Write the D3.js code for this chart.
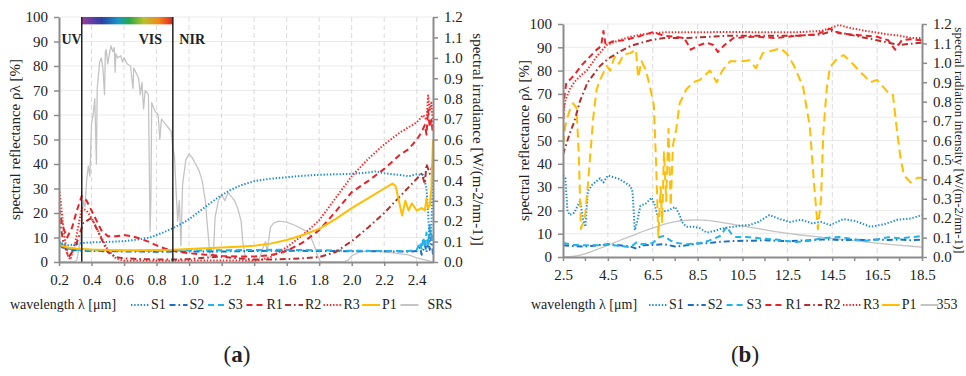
<!DOCTYPE html>
<html>
<head>
<meta charset="utf-8">
<script src="https://cdn.jsdelivr.net/npm/d3@7"></script>
<style>
  body { margin: 0; background: #fff; }
  svg text { font-family: "Liberation Serif", "DejaVu Serif", serif; fill: #222; }
</style>
</head>
<body>
<svg id="chart" width="966" height="376"></svg>
<script>
// ---- panel (a): UV / VIS / NIR, wavelength 0.2 - 2.5 um ----
const aS1 = [[0.2,8.5],[0.22,7.5],[0.25,6.8],[0.3,7.2],[0.35,7.8],[0.4,8],[0.5,8.2],[0.6,8.5],[0.7,9.3],[0.76,10],[0.8,11],[0.85,12.3],[0.9,13.8],[0.95,15.5],[1.0,17.5],[1.05,20],[1.1,22.5],[1.15,25],[1.2,27.3],[1.25,29.2],[1.3,30.8],[1.35,32],[1.4,33],[1.5,34],[1.6,34.6],[1.7,35.2],[1.8,35.6],[1.9,35.8],[2.0,36],[2.1,36.5],[2.15,37],[2.2,36.2],[2.3,35.5],[2.35,35],[2.4,35.8],[2.44,35.5],[2.46,30],[2.47,20],[2.48,8],[2.49,15],[2.5,36]];
const aS2 = [[0.2,7],[0.22,6],[0.25,5],[0.3,4.8],[0.4,4.5],[0.6,4.3],[0.8,4.2],[1.0,4.3],[1.2,4.3],[1.4,4.5],[1.6,4.6],[1.8,4.5],[2.0,4.4],[2.2,4.4],[2.35,4.2],[2.4,4.5],[2.42,6],[2.43,3],[2.45,7],[2.46,4],[2.47,9],[2.48,5],[2.49,10],[2.5,3]];
const aS3 = [[0.2,8.5],[0.22,7],[0.25,5.5],[0.3,5],[0.4,4.8],[0.6,4.6],[0.8,4.6],[1.0,4.7],[1.2,4.8],[1.4,4.9],[1.6,5],[1.8,4.8],[2.0,4.6],[2.2,4.5],[2.35,4.5],[2.4,5],[2.42,8],[2.43,5],[2.44,10],[2.45,6],[2.46,12],[2.47,7],[2.48,15],[2.49,9],[2.5,13]];
const aR1 = [[0.2,22],[0.22,15],[0.25,10],[0.28,14],[0.31,21],[0.34,27],[0.37,25],[0.4,21],[0.43,17],[0.46,13],[0.5,10.5],[0.55,10.5],[0.6,11],[0.65,10.5],[0.7,9.5],[0.75,8.3],[0.8,6.8],[0.85,5.5],[0.9,4.6],[0.95,4],[1.0,3.6],[1.1,3],[1.2,2.5],[1.3,2.2],[1.4,2.2],[1.5,2.8],[1.55,3.5],[1.6,4.5],[1.7,8],[1.8,13],[1.9,20.5],[2.0,28.5],[2.1,33],[2.2,38],[2.3,44],[2.35,46],[2.4,50],[2.43,53],[2.45,56],[2.46,52],[2.47,62],[2.48,55],[2.49,58],[2.5,52]];
const aR2 = [[0.2,18],[0.23,7],[0.26,2],[0.3,6],[0.35,16],[0.4,18],[0.45,11],[0.5,4],[0.55,2],[0.6,1.5],[0.7,1.2],[0.8,1],[0.9,1],[1.0,1.2],[1.1,1.8],[1.2,2.2],[1.3,1.5],[1.4,1],[1.5,1],[1.6,1.2],[1.7,1.5],[1.8,2],[1.9,4],[2.0,8.5],[2.1,14],[2.2,20],[2.3,27],[2.4,34],[2.43,36],[2.45,32],[2.46,40],[2.48,36],[2.5,40]];
const aR3 = [[0.2,30],[0.21,25],[0.23,12],[0.25,3],[0.27,1],[0.3,8],[0.34,22],[0.37,21],[0.4,18],[0.43,14],[0.46,10],[0.5,5],[0.55,1.5],[0.6,0.5],[0.8,0.5],[1.0,0.6],[1.2,0.6],[1.4,0.6],[1.45,1],[1.5,2],[1.6,6],[1.7,11],[1.8,17],[1.9,26],[2.0,35],[2.1,42],[2.2,48],[2.3,53],[2.4,57],[2.44,60],[2.46,58],[2.47,68],[2.48,62],[2.49,65],[2.5,56]];
const aP1 = [[0.2,7],[0.25,6],[0.3,5.5],[0.4,5.1],[0.5,4.9],[0.6,4.8],[0.7,4.8],[0.8,4.9],[0.9,5],[1.0,5.3],[1.1,5.6],[1.2,5.9],[1.3,6.2],[1.4,6.6],[1.5,7.5],[1.6,9],[1.7,11],[1.8,13.5],[1.9,17.5],[2.0,22],[2.1,26],[2.2,30],[2.25,32],[2.27,31],[2.29,25],[2.31,19],[2.33,25],[2.35,21],[2.37,24],[2.4,21],[2.43,22],[2.45,21],[2.46,26],[2.47,22],[2.48,23],[2.49,30],[2.5,50]];
// solar radiation spectrum, W/(m-2/nm-1), right axis
const aSRS = [[0.2,0],[0.29,0],[0.31,0.01],[0.33,0.1],[0.35,0.3],[0.36,0.27],[0.37,0.4],[0.38,0.47],[0.39,0.42],[0.4,0.68],[0.41,0.72],[0.42,0.8],[0.43,0.48],[0.435,0.85],[0.45,0.98],[0.46,1.0],[0.47,0.95],[0.48,0.82],[0.485,1.03],[0.49,1.04],[0.5,0.97],[0.51,1.02],[0.52,1.06],[0.53,1.03],[0.54,1.05],[0.545,0.93],[0.55,1.02],[0.56,1.0],[0.58,1.01],[0.59,0.98],[0.6,1.0],[0.62,0.97],[0.64,0.96],[0.655,0.85],[0.66,0.95],[0.69,0.9],[0.7,0.82],[0.71,0.88],[0.72,0.75],[0.73,0.84],[0.75,0.82],[0.76,0.15],[0.765,0.3],[0.77,0.78],[0.79,0.74],[0.81,0.72],[0.82,0.6],[0.83,0.7],[0.85,0.68],[0.87,0.66],[0.89,0.64],[0.9,0.56],[0.91,0.52],[0.92,0.35],[0.93,0.2],[0.94,0.3],[0.95,0.08],[0.96,0.38],[0.98,0.5],[1.0,0.53],[1.02,0.51],[1.04,0.48],[1.06,0.45],[1.08,0.4],[1.1,0.3],[1.11,0.2],[1.13,0.02],[1.15,0.05],[1.16,0.22],[1.18,0.3],[1.2,0.33],[1.22,0.3],[1.24,0.34],[1.26,0.32],[1.28,0.3],[1.3,0.26],[1.32,0.2],[1.33,0.1],[1.35,0],[1.4,0],[1.43,0.01],[1.45,0.06],[1.47,0.1],[1.48,0.05],[1.5,0.17],[1.52,0.19],[1.55,0.2],[1.6,0.195],[1.65,0.18],[1.7,0.16],[1.74,0.14],[1.77,0.08],[1.79,0.03],[1.81,0],[1.95,0],[1.98,0.01],[2.0,0.03],[2.05,0.05],[2.1,0.055],[2.2,0.05],[2.3,0.04],[2.35,0.035],[2.4,0.02],[2.45,0.01],[2.5,0]];
const aXTicks = [0.2, 0.4, 0.6, 0.8, 1.0, 1.2, 1.4, 1.6, 1.8, 2.0, 2.2, 2.4];
const visBounds = [0.34, 0.9];
const bandLabels = [['UV', 0.215], ['VIS', 0.69], ['NIR', 0.94]];

// ---- panel (b): thermal infrared, wavelength 2.5 - 18.5 um ----
const bS1 = [[2.5,35],[2.6,34],[2.7,20],[2.8,18],[3.0,19],[3.26,24],[3.4,16],[3.5,13],[3.6,28],[3.8,31],[4.15,33.8],[4.3,32],[4.5,35],[5.0,33.5],[5.5,30.5],[5.6,28],[5.7,11.5],[5.8,15],[5.95,22],[6.2,23],[6.45,25.5],[6.6,22],[6.7,18],[6.95,19.5],[7.2,20],[7.5,21.5],[7.7,18],[7.8,15],[8.0,13],[8.3,13],[8.6,12.4],[8.9,10.5],[9.2,11],[9.5,12],[9.8,12.6],[10.1,13],[10.5,13.5],[10.8,13.7],[11.2,15],[11.7,18],[12.1,16.5],[12.6,15],[13.1,16],[13.6,14.5],[14.0,15],[14.4,13.7],[15.0,16.3],[15.5,15.5],[16.2,13],[16.8,14],[17.4,16],[18.0,16.5],[18.5,18]];
const bS2 = [[2.5,5],[3.0,4.6],[3.5,4.5],[4.0,5],[4.5,5.5],[5.0,5],[5.5,4.5],[5.8,3.5],[6.0,5],[6.5,5.2],[7.0,5.5],[7.5,4.5],[8.0,5],[8.5,5.8],[9.0,6],[9.5,6.5],[10.0,6.8],[10.5,7],[11.0,7],[11.5,7.2],[12.0,7],[12.5,6.8],[13.0,7],[13.5,7.2],[14.0,7.5],[14.5,7.5],[15.0,7.2],[15.5,7.5],[16.0,7.2],[16.5,7.5],[17.0,7.3],[17.5,7.5],[18.0,7.2],[18.5,7.5]];
const bS3 = [[2.5,6],[3.0,5.2],[3.5,5],[4.0,5],[4.5,5.3],[5.0,4.8],[5.5,4.2],[5.8,6.4],[6.0,5.5],[6.5,6],[6.8,8.6],[7.0,9],[7.3,7],[7.6,6],[8.0,5.5],[8.5,5.8],[9.0,7],[9.5,9],[9.8,13],[10.0,10],[10.2,8.6],[10.8,8.5],[11.4,7.9],[12.0,7.5],[12.9,6.4],[13.5,7],[14.0,8],[14.8,8.6],[15.5,7.5],[16.0,7],[16.5,7.5],[17.0,8.5],[17.5,8],[18.0,8.5],[18.5,9]];
const bR1 = [[2.5,55],[2.55,68],[2.65,75],[2.8,76],[3.0,78],[3.3,82],[3.6,85],[4.0,89],[4.2,90.5],[4.3,97],[4.4,91],[4.7,92.5],[5.2,93],[5.6,94],[6.0,95],[6.5,96.5],[7.0,95],[7.5,94.5],[7.9,94],[8.2,89],[8.6,91],[8.9,92],[9.2,91],[9.4,88],[9.7,91],[10.1,94],[11,94.5],[12,94],[13,95],[13.8,95.5],[14.4,98],[14.8,96],[15.4,95.5],[15.9,95],[16.5,94.5],[17.0,93],[17.3,89],[17.6,93],[18.0,93.5],[18.5,93]];
const bR2 = [[2.5,44],[2.8,53],[3.0,58],[3.26,67],[3.6,75],[4.15,82],[4.5,85],[5.0,88],[5.5,90.5],[6.0,92],[6.4,93],[7.0,94],[8.0,94],[9.0,94.5],[10.0,95],[11.0,95],[12.0,95],[13.0,95],[14.0,95.5],[14.5,97],[15.0,96],[15.5,95],[16.0,94],[16.5,93],[17.0,92],[17.5,91],[18.0,91.5],[18.5,92]];
const bR3 = [[2.5,60],[2.6,67],[2.8,72],[3.0,75],[3.3,78],[3.56,80],[4.0,86],[4.45,91],[5.0,93],[5.5,94.5],[6.0,95.5],[6.5,96],[7.1,96.5],[8.0,96.5],[9.0,96.5],[10.0,96.6],[11.0,96.5],[12.0,96.5],[13.0,96.5],[14.0,97],[14.5,98.5],[14.8,99.6],[15.2,98.5],[16.0,97],[17.0,95.5],[17.5,95],[18.0,94],[18.5,94]];
const bP1 = [[2.5,48],[2.6,56],[2.7,60],[2.8,63],[2.95,66],[3.1,64],[3.2,45],[3.3,12],[3.4,15],[3.48,17],[3.6,30],[3.75,48],[3.85,60],[4.0,72],[4.15,76],[4.3,79],[4.45,82],[4.6,80],[4.8,86],[5.0,83],[5.2,87],[5.5,87.5],[5.75,89],[5.85,77],[6.0,84],[6.2,80],[6.4,72],[6.55,65],[6.65,40],[6.75,9],[6.85,30],[6.92,15],[7.0,45],[7.1,24],[7.2,55],[7.3,22],[7.4,48],[7.55,55],[7.7,66],[8.0,72],[8.3,75],[8.6,76],[9.05,80],[9.35,75],[9.6,80],[9.94,84],[10.5,84],[10.8,84.5],[11.1,81],[11.4,87.5],[11.8,88.5],[12.2,89.6],[12.5,87],[12.8,82],[13.2,73],[13.5,56],[13.7,30],[13.86,12],[14.0,25],[14.1,53],[14.25,72],[14.4,81.5],[14.7,85],[15.0,86.7],[15.3,84],[15.6,81],[15.9,78],[16.2,75],[16.5,76],[16.95,71],[17.2,70],[17.4,53],[17.55,42],[17.7,35],[18.0,32],[18.3,34],[18.5,34]];
// emission at 353 K, right axis
const b353 = [[2.5,0],[2.9,0],[3.5,0.015],[4.15,0.045],[4.5,0.06],[5.0,0.085],[5.6,0.11],[6.0,0.13],[6.5,0.15],[7.1,0.172],[7.5,0.183],[8.0,0.19],[8.5,0.192],[8.9,0.19],[9.5,0.18],[10.1,0.168],[10.5,0.16],[11.4,0.142],[12.0,0.13],[12.9,0.115],[14.4,0.098],[15.9,0.078],[17.0,0.065],[18.4,0.052],[18.5,0.051]];
const bXTicks = [2.5, 4.5, 6.5, 8.5, 10.5, 12.5, 14.5, 16.5, 18.5];
const bXMinor = [3.5, 5.5, 7.5, 9.5, 11.5, 13.5, 15.5, 17.5];

const leftTicks = [0, 10, 20, 30, 40, 50, 60, 70, 80, 90, 100];
const rightTicks = [0, 0.1, 0.2, 0.3, 0.4, 0.5, 0.6, 0.7, 0.8, 0.9, 1.0, 1.1, 1.2];

// line styles
const C = {
  S1: '#1e8ed8', S2: '#1b6fc4', S3: '#1fb4ec',
  R1: '#e8222a', R2: '#b2302f', R3: '#ff2424', P1: '#ffbe00', G: '#c4c4c4'
};
const DOT = '1.4,1.8', DASHDOT = '6,3,1.6,3', DASH = '6,4';
const SERIF = '"Liberation Serif", "Times New Roman", serif';

const svg = d3.select('#chart');
const axisGray = '#8c8c8c';

function drawPanel(p) {
  const g = svg.append('g').style('font-family', SERIF);
  const x = d3.scaleLinear().domain(p.xDomain).range([p.left, p.right]);
  const y = d3.scaleLinear().domain([0, 100]).range([p.bottom, p.top]);
  const y2 = d3.scaleLinear().domain([0, 1.2]).range([p.bottom, p.top]);

  const clipId = 'clip-' + p.id;
  svg.append('clipPath').attr('id', clipId).append('rect')
    .attr('x', p.left).attr('y', p.top - 2)
    .attr('width', p.right - p.left).attr('height', p.bottom - p.top + 2);

  // gridlines
  g.append('g').selectAll('line').data(leftTicks.slice(1)).join('line')
    .attr('x1', p.left).attr('x2', p.right)
    .attr('y1', d => y(d)).attr('y2', d => y(d))
    .attr('stroke', '#ebebeb').attr('stroke-width', 1);
  g.append('g').selectAll('line').data(p.gridX).join('line')
    .attr('x1', d => x(d)).attr('x2', d => x(d))
    .attr('y1', p.top).attr('y2', p.bottom)
    .attr('stroke', '#dcdcdc').attr('stroke-width', 1)
    .attr('stroke-dasharray', '5,3');

  if (p.extra) p.extra(g, x, y);

  // series
  const plot = g.append('g').attr('clip-path', `url(#${clipId})`);
  p.series.forEach(s => {
    const yy = s.right ? y2 : y;
    const line = d3.line().x(d => x(d[0])).y(d => yy(d[1]));
    if (s.curve) line.curve(s.curve);
    plot.append('path')
      .datum(s.data)
      .attr('fill', 'none')
      .attr('stroke', s.color)
      .attr('stroke-width', s.width || 2)
      .attr('stroke-dasharray', s.dash || null)
      .attr('stroke-linejoin', 'round')
      .attr('d', line);
  });

  if (p.overlay) p.overlay(g, x, y);

  // axes
  const styleAxis = sel => {
    sel.attr('font-family', null);
    sel.selectAll('.domain').attr('stroke', axisGray).attr('stroke-width', 2);
    sel.selectAll('.tick line').attr('stroke', axisGray).attr('stroke-width', 1.5);
    sel.selectAll('.tick text').attr('font-size', 15)
      .style('font-family', SERIF).attr('fill', '#222');
  };
  g.append('g').attr('transform', `translate(${p.left},0)`)
    .call(d3.axisLeft(y).tickValues(leftTicks).tickSize(5).tickPadding(6).tickSizeOuter(0))
    .call(styleAxis);
  g.append('g').attr('transform', `translate(${p.right},0)`)
    .call(d3.axisRight(y2).tickValues(rightTicks).tickFormat(d3.format('.1f')).tickSize(5).tickPadding(6).tickSizeOuter(0))
    .call(styleAxis);
  g.append('g').attr('transform', `translate(0,${p.bottom})`)
    .call(d3.axisBottom(x).tickValues(p.xTicks).tickFormat(d3.format('.1f')).tickSize(4).tickPadding(8).tickSizeOuter(0))
    .call(styleAxis);
  if (p.xMinor) {
    g.append('g').selectAll('line').data(p.xMinor).join('line')
      .attr('x1', d => x(d)).attr('x2', d => x(d))
      .attr('y1', p.bottom).attr('y2', p.bottom + 4)
      .attr('stroke', axisGray).attr('stroke-width', 1.5);
  }

  // axis titles
  g.append('text')
    .attr('transform', `translate(${p.leftTitleX},${(p.top + p.bottom) / 2}) rotate(-90)`)
    .attr('text-anchor', 'middle').attr('font-size', 15)
    .text('spectral reflectance ρλ  [%]');
  g.append('text')
    .attr('transform', `translate(${p.rightTitleX},${(p.top + p.bottom) / 2}) rotate(90)`)
    .attr('text-anchor', 'middle').attr('font-size', p.rightTitleSize)
    .text(p.rightTitle);

  // legend
  const ly = 305;
  g.append('text').attr('x', p.legendX).attr('y', ly + 4)
    .attr('font-size', 14).text('wavelength λ  [μm]');
  const lg = g.append('g').selectAll('g').data(p.series.slice().sort((a, b) => a.order - b.order)).join('g')
    .attr('transform', (d, i) => `translate(${p.legendStart + i * p.legendStep},${ly})`);
  lg.append('line')
    .attr('x1', 0).attr('x2', 18).attr('y1', 0).attr('y2', 0)
    .attr('stroke', d => d.color).attr('stroke-width', 2)
    .attr('stroke-dasharray', d => d.legendDash === undefined ? (d.dash || null) : d.legendDash);
  lg.append('text').attr('x', d => d.order === 8 ? p.lastTextDx : 20).attr('y', 4)
    .attr('font-size', 14).text(d => d.name);

  // panel letter
  const label = g.append('text').attr('x', p.letterX).attr('y', 362)
    .attr('text-anchor', 'middle').attr('font-size', 23);
  label.append('tspan').text('(');
  label.append('tspan').attr('font-weight', 'bold').text(p.letter);
  label.append('tspan').text(')');
}

// panel (a)
drawPanel({
  id: 'a', left: 59, right: 433, top: 17, bottom: 262,
  xDomain: [0.2, 2.5], xTicks: aXTicks, gridX: aXTicks.slice(1),
  leftTitleX: 20, rightTitleX: 473, rightTitleSize: 15,
  rightTitle: 'spectral irradiance [W/(m-2/nm-1)]',
  legendX: 10, legendStart: 131, legendStep: 38.5, lastTextDx: 27,
  letter: 'a', letterX: 237,
  series: [
    { name: 'SRS', data: aSRS, color: C.G, width: 1.3, right: true, legendDash: null, order: 8 },
    { name: 'S2', data: aS2, color: C.S2, dash: DASHDOT, order: 2 },
    { name: 'S3', data: aS3, color: C.S3, dash: DASH, order: 3 },
    { name: 'S1', data: aS1, color: C.S1, dash: DOT, order: 1 },
    { name: 'R2', data: aR2, color: C.R2, dash: DASHDOT, order: 5 },
    { name: 'R1', data: aR1, color: C.R1, dash: DASH, order: 4 },
    { name: 'R3', data: aR3, color: C.R3, dash: DOT, order: 6 },
    { name: 'P1', data: aP1, color: C.P1, order: 7 }
  ],
  extra: (g, x, y) => {
    const grad = svg.append('defs').append('linearGradient').attr('id', 'rainbow');
    [['0%', '#9b3c9e'], ['22%', '#2b3fa6'], ['40%', '#1797c8'], ['52%', '#24a94a'],
     ['68%', '#b8c22a'], ['84%', '#f08a1c'], ['100%', '#e3241f']]
      .forEach(([o, c]) => grad.append('stop').attr('offset', o).attr('stop-color', c));
    g.append('rect')
      .attr('x', x(visBounds[0])).attr('y', y(100))
      .attr('width', x(visBounds[1]) - x(visBounds[0])).attr('height', y(97) - y(100))
      .attr('fill', 'url(#rainbow)');
  },
  overlay: (g, x, y) => {
    g.selectAll('.vis-line').data(visBounds).join('line')
      .attr('class', 'vis-line')
      .attr('x1', d => x(d)).attr('x2', d => x(d))
      .attr('y1', y(100)).attr('y2', y(0))
      .attr('stroke', '#222').attr('stroke-width', 1.5);
    g.selectAll('.band').data(bandLabels).join('text')
      .attr('class', 'band')
      .attr('x', d => x(d[1])).attr('y', y(91) + 5)
      .attr('font-size', 14).attr('font-weight', 'bold')
      .text(d => d[0]);
  }
});

// panel (b)
drawPanel({
  id: 'b', left: 563, right: 922, top: 24, bottom: 257,
  xDomain: [2.5, 18.5], xTicks: bXTicks, xMinor: bXMinor, gridX: bXTicks.slice(1, -1),
  leftTitleX: 529, rightTitleX: 955, rightTitleSize: 13,
  rightTitle: 'spectral radiation intensity [W/(m-2/nm-1)]',
  legendX: 531, legendStart: 649, legendStep: 38.8, lastTextDx: 16,
  letter: 'b', letterX: 745,
  series: [
    { name: '353', data: b353, color: C.G, width: 1.3, right: true, curve: d3.curveBasis, legendDash: null, order: 8 },
    { name: 'S2', data: bS2, color: C.S2, dash: DASHDOT, order: 2 },
    { name: 'S3', data: bS3, color: C.S3, dash: DASH, order: 3 },
    { name: 'S1', data: bS1, color: C.S1, dash: DOT, order: 1 },
    { name: 'P1', data: bP1, color: C.P1, dash: '9,5', legendDash: null, order: 7 },
    { name: 'R2', data: bR2, color: C.R2, dash: DASHDOT, order: 5 },
    { name: 'R1', data: bR1, color: C.R1, dash: DASH, order: 4 },
    { name: 'R3', data: bR3, color: C.R3, dash: DOT, order: 6 }
  ]
});
</script>
</body>
</html>
